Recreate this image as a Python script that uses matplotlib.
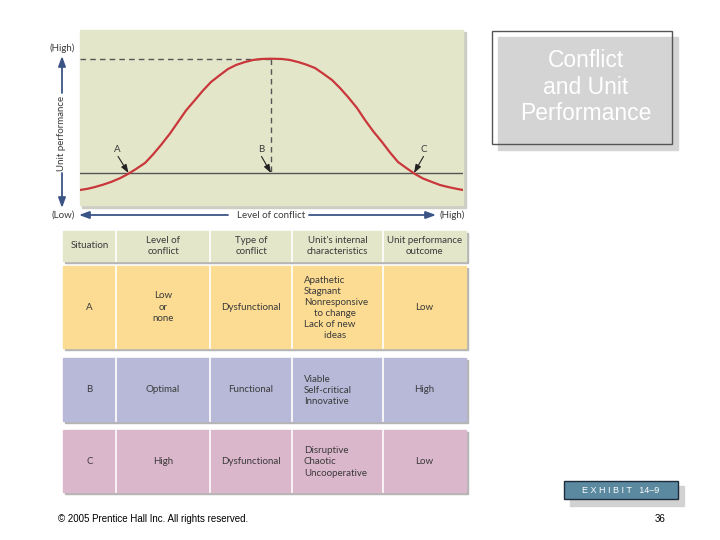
# coding=UTF-8
import matplotlib
matplotlib.use('Agg')
import matplotlib.pyplot as plt
from matplotlib.patches import Rectangle

# curve: level of conflict vs unit performance
conflict_level = [0, 8, 15, 23, 31, 40, 48, 56, 65, 73, 81, 90, 98, 106, 115, 123,
                  131, 140, 148, 156, 165, 173, 181, 191, 202, 210, 218, 226, 235,
                  243, 252, 260, 268, 277, 285, 293, 302, 310, 318, 327, 335, 343,
                  352, 360, 368, 376, 383]
unit_performance = [15, 16.3, 18, 20.3, 23, 26.8, 31, 36, 42, 50.5, 60, 71.5, 83,
                    94.5, 105, 114.5, 123, 130, 136, 140, 143, 145, 146, 146.3, 146,
                    145, 143, 140.5, 137, 131.5, 125, 117, 108, 97, 85, 74, 63, 52.5,
                    43, 36.5, 31, 26.5, 23, 20, 18, 16.3, 15]
baseline_perf = 32
points = ['A', 'B', 'C']
point_level = [48.5, 191, 334]

headers = ['Situation', 'Level of\nconflict', 'Type of\nconflict',
           "Unit's internal\ncharacteristics", 'Unit performance\noutcome']
situations = ['A', 'B', 'C']
levels = ['Low\nor\nnone', 'Optimal', 'High']
types = ['Dysfunctional', 'Functional', 'Dysfunctional']
characteristics = [['Apathetic', 'Stagnant', 'Nonresponsive', '    to change', 'Lack of new', '        ideas'],
                   ['Viable', 'Self-critical', 'Innovative'],
                   ['Disruptive', 'Chaotic', 'Uncooperative']]
outcomes = ['Low', 'High', 'Low']

PANEL = '#e4e6ca'
ROW_COLORS = ['#fcdc93', '#b8b9d9', '#dbb7cc']
NAVY = '#3b5486'
TXT = '#3a3a3a'
FONT = 'Lato'

if __name__ == '__main__':
    fig = plt.figure(figsize=(7.2, 5.4), dpi=100)
    bg = fig.add_axes([0, 0, 1, 1])
    bg.set_xlim(0, 720)
    bg.set_ylim(540, 0)
    bg.axis('off')

    # chart panel with shadow
    bg.add_patch(Rectangle((82, 32), 384, 176, color='#cdcdc4', zorder=1))
    bg.add_patch(Rectangle((80, 30), 383, 175, color=PANEL, zorder=2))

    ax = fig.add_axes([80 / 720, 1 - 205 / 540, 383 / 720, 175 / 540])
    ax.set_xlim(0, 383)
    ax.set_ylim(0, 175)
    ax.patch.set_alpha(0)
    ax.axis('off')
    ax.axhline(baseline_perf, color='#555555', lw=1.0)
    peak = max(unit_performance)
    peak_level = conflict_level[unit_performance.index(peak)]
    ax.plot([0, peak_level], [peak, peak], ls='--', color='#555555', lw=1.0, dashes=(4, 3))
    ax.plot([peak_level, peak_level], [peak, baseline_perf], ls='--', color='#555555', lw=1.0, dashes=(4, 3))
    ax.plot(conflict_level, unit_performance, color='#c9373a', lw=1.6, solid_joinstyle='round')
    offsets = [(-11, 23), (-10, 23), (10, 23)]
    for p, lv, (dx, dy) in zip(points, point_level, offsets):
        ax.annotate('', xy=(lv, baseline_perf), xytext=(lv + dx * 0.95, baseline_perf + dy * 0.72),
                    arrowprops=dict(arrowstyle='-|>,head_length=0.5,head_width=0.18',
                                    color='#222222', lw=0.8, shrinkA=0, shrinkB=0))
        ax.text(lv + dx, baseline_perf + dy, p, ha='center', va='center',
                fontsize=7, color=TXT, family=FONT)

    # axis labels and arrows
    arrow = dict(arrowstyle='-|>,head_length=0.6,head_width=0.22', color=NAVY, lw=1.3,
                 shrinkA=0, shrinkB=0)
    bg.text(62, 48, '(High)', ha='center', va='center', fontsize=7, color=TXT, family=FONT)
    bg.text(63, 215, '(Low)', ha='center', va='center', fontsize=7, color=TXT, family=FONT)
    bg.text(62, 133, 'Unit performance', ha='center', va='center', rotation=90,
            fontsize=7, color=TXT, family=FONT)
    bg.annotate('', xy=(62, 56), xytext=(62, 93), arrowprops=arrow)
    bg.annotate('', xy=(62, 208), xytext=(62, 173), arrowprops=arrow)
    bg.text(271, 215, 'Level of conflict', ha='center', va='center', fontsize=7, color=TXT, family=FONT)
    bg.text(452, 215, '(High)', ha='center', va='center', fontsize=7, color=TXT, family=FONT)
    bg.annotate('', xy=(79, 215), xytext=(228, 215), arrowprops=arrow)
    bg.annotate('', xy=(436, 215), xytext=(309, 215), arrowprops=arrow)

    # table
    col_edges = [63, 116, 210, 292, 383, 466]
    centers = [(a + b) / 2 for a, b in zip(col_edges[:-1], col_edges[1:])]
    row_spans = [(231, 261), (266, 348), (358, 421), (430, 492)]
    fills = [PANEL] + ROW_COLORS
    for (top, bot), fc in zip(row_spans, fills):
        bg.add_patch(Rectangle((col_edges[0] + 2, top + 2), col_edges[-1] - col_edges[0], bot - top,
                               color='#b5b5b5', zorder=1))
        bg.add_patch(Rectangle((col_edges[0], top), col_edges[-1] - col_edges[0], bot - top,
                               color=fc, zorder=2))
        for x in col_edges[1:-1]:
            bg.plot([x, x], [top, bot], color='white', lw=1.2, zorder=3)

    for c, h in zip(centers, headers):
        bg.text(c, 246, h, ha='center', va='center', fontsize=7, color=TXT, family=FONT,
                linespacing=1.25, zorder=4)

    for i, (top, bot) in enumerate(row_spans[1:]):
        y = (top + bot) / 2
        cells = [situations[i], levels[i], types[i], None, outcomes[i]]
        for j, cell in enumerate(cells):
            if cell is None:
                continue
            bg.text(centers[j], y, cell, ha='center', va='center', fontsize=7, color=TXT,
                    family=FONT, linespacing=1.3, zorder=4)
        bg.text(304, y + 1, '\n'.join(characteristics[i]), ha='left', va='center', fontsize=7,
                color=TXT, family=FONT, linespacing=1.3, multialignment='left', zorder=4)

    # title box
    bg.add_patch(Rectangle((498, 37), 180, 113, color='#d4d4d4', zorder=1))
    bg.add_patch(Rectangle((492, 31), 180, 113, fill=False, ec='#555555', lw=1.0, zorder=2))
    bg.text(586, 87, 'Conflict\nand Unit\nPerformance', ha='center', va='center', fontsize=16.5,
            color='white', family='Liberation Sans', linespacing=1.22, zorder=3)

    # exhibit tag
    bg.add_patch(Rectangle((570, 486), 114, 20, color='#d2d2d2', zorder=1))
    bg.add_patch(Rectangle((564, 481), 114, 18, fc='#5a89a0', ec='#1d2b3a', lw=1.0, zorder=2))
    bg.text(621, 490.5, 'E X H I B I T   14\u20139', ha='center', va='center', fontsize=6.5,
            color='white', family='Liberation Sans', zorder=3)

    # footer
    bg.text(58, 519, '\u00a9 2005 Prentice Hall Inc. All rights reserved.', ha='left', va='center',
            fontsize=7, color='black', family='Liberation Sans')
    bg.text(660, 519, '36', ha='center', va='center', fontsize=7, color='black',
            family='Liberation Sans')

    fig.savefig('out.png', dpi=100)
